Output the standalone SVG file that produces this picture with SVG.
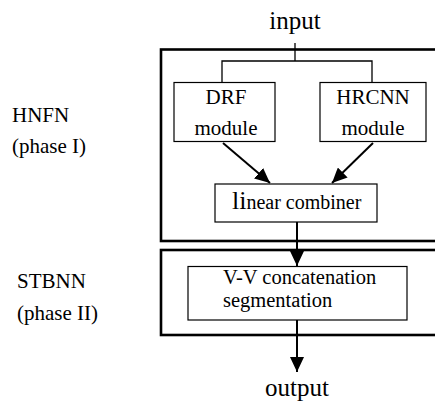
<svg xmlns="http://www.w3.org/2000/svg" width="435" height="403" viewBox="0 0 435 403">
<style>
text{font-family:"Liberation Serif","Times New Roman",serif;fill:#000}
.frame{fill:none;stroke:#000;stroke-width:2.6}
.box{fill:#fff;stroke:#000;stroke-width:1.2}
.ln{fill:none;stroke:#000;stroke-width:1.3}
.ar{fill:none;stroke:#000;stroke-width:2}
.big{font-size:25px}
.mid{font-size:21px}
.lab{font-size:21px}
.seg{font-size:20.5px}
</style>
<defs>
<marker id="ah" markerUnits="userSpaceOnUse" markerWidth="15" markerHeight="14" refX="15" refY="7" orient="auto">
<path d="M0,0 L15,7 L0,14 z" fill="#000"/>
</marker>
</defs>
<rect width="435" height="403" fill="#fff"/>
<g id="phase1">
<rect class="frame" x="161" y="49.5" width="290" height="191.5"/>
</g>
<g id="phase2">
<rect class="frame" x="161" y="250" width="290" height="85"/>
</g>
<g id="labels">
<text class="lab" x="12" y="122">HNFN</text>
<text class="lab" x="12" y="153">(phase I)</text>
<text class="lab" x="17" y="288">STBNN</text>
<text class="lab" x="17" y="320">(phase II)</text>
</g>
<g id="input"><text class="big" x="295" y="29" text-anchor="middle">input</text></g>
<g id="output"><text class="big" x="297" y="396" text-anchor="middle">output</text></g>
<g id="connectors">
<path class="ln" d="M295,43 V61 M222,82.5 V61 H372 V82.5"/>
<line class="ar" x1="223" y1="143" x2="270" y2="183" marker-end="url(#ah)"/>
<line class="ar" x1="373" y1="143" x2="332" y2="183" marker-end="url(#ah)"/>
<line class="ar" x1="297" y1="222" x2="297" y2="266" marker-end="url(#ah)"/>
<line class="ar" x1="297" y1="320" x2="297" y2="372" marker-end="url(#ah)"/>
</g>
<g id="drf">
<rect class="box" x="174" y="82.5" width="101" height="59"/>
<text class="mid" x="226" y="104" text-anchor="middle">DRF</text>
<text class="mid" x="226" y="135" text-anchor="middle">module</text>
</g>
<g id="hrcnn">
<rect class="box" x="320" y="82.5" width="106" height="59"/>
<text class="mid" x="373" y="104" text-anchor="middle">HRCNN</text>
<text class="mid" x="373" y="135" text-anchor="middle">module</text>
</g>
<g id="combiner">
<rect class="box" x="215" y="184" width="162" height="38"/>
<text x="232" y="209"><tspan font-size="26">li</tspan><tspan font-size="20">near combiner</tspan></text>
</g>
<g id="segmentation">
<rect class="box" x="188" y="266.5" width="219" height="53.5"/>
<text class="seg" x="223" y="284">V-V concatenation</text>
<text class="seg" x="223" y="307">segmentation</text>
</g>
</svg>
